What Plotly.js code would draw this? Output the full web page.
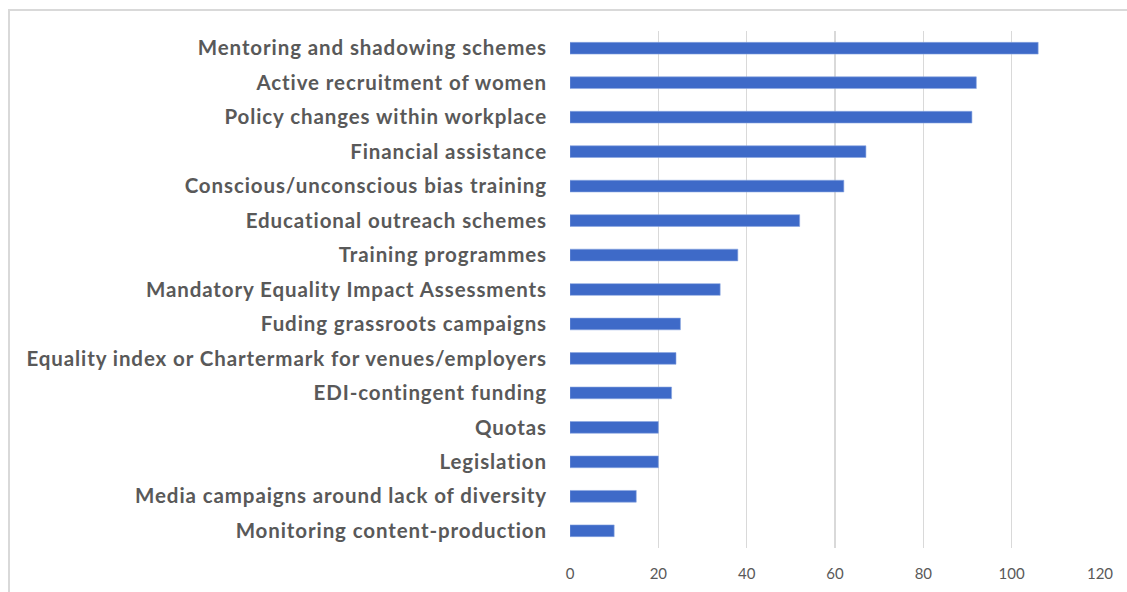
<!DOCTYPE html>
<html>
<head>
<meta charset="utf-8">
<script src="https://cdn.plot.ly/plotly-3.0.1.min.js"></script>
<style>
  html, body { margin: 0; padding: 0; background: #fff; }
  #chart { width: 1127px; height: 592px; }
  #chart .ytick text { letter-spacing: 0.9px; }
  #frame { position: absolute; left: 8px; top: 9px; width: 1200px; height: 700px;
           border-left: 2px solid #d9d9d9; border-top: 2px solid #d9d9d9; pointer-events: none; }
</style>
</head>
<body>
<div id="chart"></div>
<div id="frame"></div>
<script>
const categories = [
  "Mentoring and shadowing schemes",
  "Active recruitment of women",
  "Policy changes within workplace",
  "Financial assistance",
  "Conscious/unconscious bias training",
  "Educational outreach schemes",
  "Training programmes",
  "Mandatory Equality Impact Assessments",
  "Fuding grassroots campaigns",
  "Equality index or Chartermark for venues/employers",
  "EDI-contingent funding",
  "Quotas",
  "Legislation",
  "Media campaigns around lack of diversity",
  "Monitoring content-production"
];
const values = [106, 92, 91, 67, 62, 52, 38, 34, 25, 24, 23, 20, 20, 15, 10];
const xTicks = [0, 20, 40, 60, 80, 100, 120];

const trace = {
  type: 'bar',
  orientation: 'h',
  x: values,
  y: categories,
  width: 0.34,
  marker: { color: '#3e6ac8', line: { color: '#8aa6e0', width: 0.6 } },
  hoverinfo: 'x+y'
};

const layout = {
  width: 1127,
  height: 592,
  paper_bgcolor: '#ffffff',
  plot_bgcolor: '#ffffff',
  showlegend: false,
  margin: { l: 570, r: 27, t: 31, b: 44, pad: 0 },
  xaxis: {
    range: [0, 120],
    tickvals: xTicks,
    ticktext: xTicks.map(String),
    showgrid: true,
    gridcolor: '#d9d9d9',
    gridwidth: 1.6,
    zeroline: false,
    showline: false,
    ticks: '',
    ticklabelstandoff: 15,
    tickfont: { family: 'Lato, "Open Sans", sans-serif', size: 15, color: '#595959' },
    fixedrange: true
  },
  yaxis: {
    type: 'category',
    autorange: 'reversed',
    showgrid: false,
    zeroline: false,
    showline: false,
    ticks: '',
    ticklabelstandoff: 22,
    tickfont: { family: 'Lato, "Open Sans", sans-serif', size: 20.5, color: '#595959', weight: 'bold' },
    fixedrange: true
  },
  bargap: 0.66
};

Plotly.newPlot('chart', [trace], layout, { displayModeBar: false, staticPlot: true });
</script>
</body>
</html>
